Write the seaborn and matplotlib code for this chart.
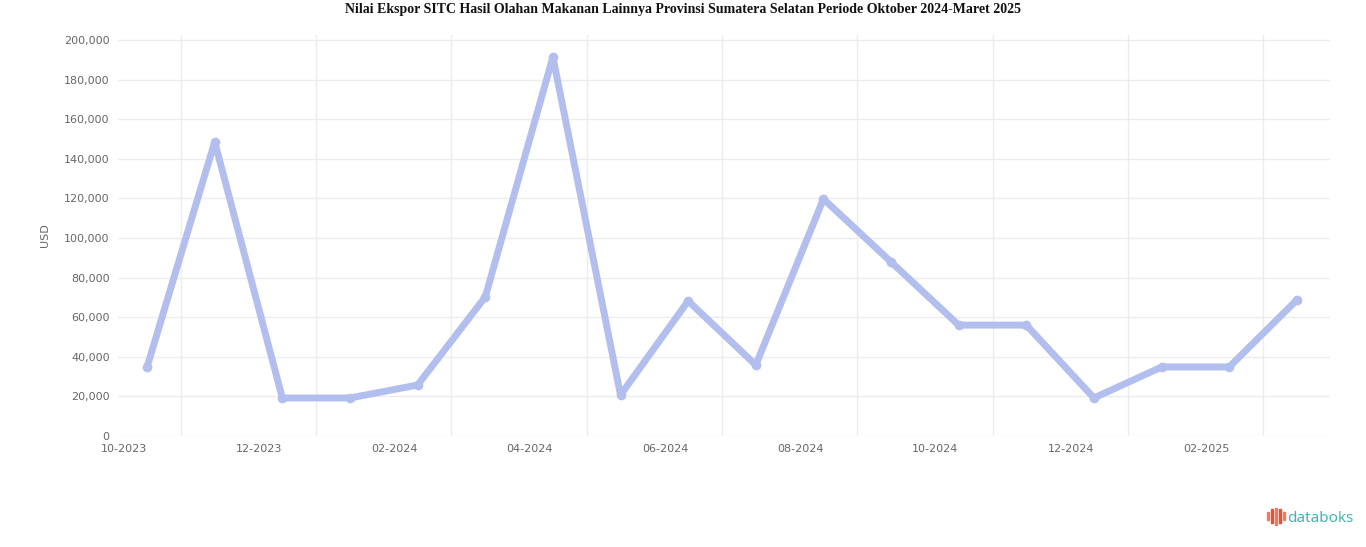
"""
Nilai ekspor SITC hasil olahan makanan lainnya, Sumatera Selatan.
Line chart rebuilt with seaborn, saved to out.png.
"""

import matplotlib

matplotlib.use("Agg")
import matplotlib.pyplot as plt
import matplotlib.patches as mpatches
import pandas as pd
import seaborn as sns
from matplotlib.ticker import FixedLocator, FuncFormatter

TITLE = ("Nilai Ekspor SITC Hasil Olahan Makanan Lainnya Provinsi Sumatera "
         "Selatan Periode Oktober 2024-Maret 2025")

months = ["10-2023", "11-2023", "12-2023", "01-2024", "02-2024", "03-2024",
          "04-2024", "05-2024", "06-2024", "07-2024", "08-2024", "09-2024",
          "10-2024", "11-2024", "12-2024", "01-2025", "02-2025", "03-2025"]
values = [34850, 148500, 19200, 19200, 25750, 70200,
          191400, 20700, 68200, 35850, 119700, 87900,
          56000, 56000, 19200, 34850, 34850, 68700]
y_ticks = [0, 20000, 40000, 60000, 80000, 100000, 120000, 140000,
           160000, 180000, 200000]

LINE_COLOR = "#b2bfee"
GRID_COLOR = "#ececec"
TEXT_COLOR = "#666666"

df = pd.DataFrame({"pos": range(len(months)), "bulan": months, "nilai": values})

sns.set_style("white")
plt.rcParams["font.family"] = ["DejaVu Sans"]

fig = plt.figure(figsize=(13.66, 5.47), dpi=100)
ax = fig.add_axes([118 / 1366, 1 - 436 / 547, (1330 - 118) / 1366, (436 - 35) / 547])

sns.lineplot(data=df, x="pos", y="nilai", ax=ax, color=LINE_COLOR,
             linewidth=5, marker="o", markersize=7, markeredgewidth=0)

ax.set_xlim(-0.43, 17.49)
ax.set_ylim(0, 202500)

ax.yaxis.set_major_locator(FixedLocator(y_ticks))
ax.yaxis.set_major_formatter(FuncFormatter(lambda v, _: f"{int(v):,}"))
ax.set_xticks(df["pos"][::2])
ax.set_xticklabels(df["bulan"][::2], ha="right")
ax.xaxis.set_minor_locator(FixedLocator([p + 0.5 for p in range(0, 17, 2)]))

ax.grid(axis="y", which="major", color=GRID_COLOR, linewidth=1)
ax.grid(axis="x", which="minor", color=GRID_COLOR, linewidth=1)
ax.tick_params(axis="both", which="both", length=0, labelsize=8,
               labelcolor=TEXT_COLOR)
ax.tick_params(axis="y", pad=6)
ax.tick_params(axis="x", pad=6)
for side in ax.spines.values():
    side.set_visible(False)

ax.set_xlabel("")
ax.set_ylabel("USD", fontsize=8, color=TEXT_COLOR, labelpad=10)

fig.text(0.5, 1 - 9 / 547, TITLE, ha="center", va="center", fontsize=10,
         fontweight="bold", family="Liberation Serif", color="#111111")

# databoks logo
bar_x = [1267, 1271, 1275, 1279, 1283]
bar_h = [8, 14, 17, 14, 8]
bar_c = ["#f07a5a", "#e8503a", "#f07a5a", "#e8503a", "#f07a5a"]
for bx, bh, bc in zip(bar_x, bar_h, bar_c):
    fig.add_artist(mpatches.Rectangle((bx / 1366, 1 - (516 + bh / 2) / 547),
                                      2 / 1366, bh / 547, color=bc,
                                      transform=fig.transFigure))
fig.text(1287 / 1366, 1 - 518 / 547, "databoks", ha="left", va="center",
         fontsize=11, color="#3fb8af", family="Noto Sans")

fig.savefig("out.png", dpi=100)
plt.close(fig)
